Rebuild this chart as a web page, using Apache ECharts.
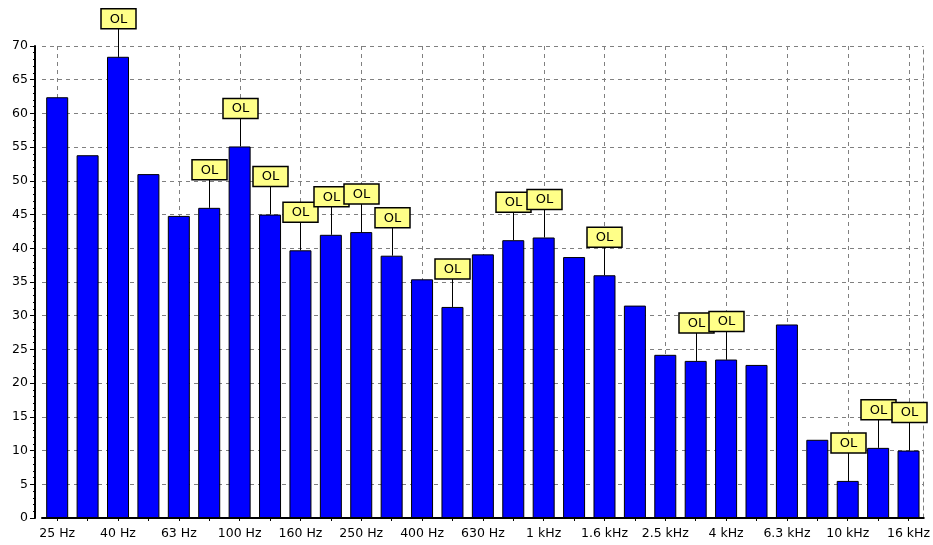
<!DOCTYPE html>
<html>
<head>
<meta charset="utf-8">
<script src="https://cdn.jsdelivr.net/npm/echarts@6/dist/echarts.min.js"></script>
<style>html,body{margin:0;padding:0;background:#fff}#c{width:933px;height:545px}</style>
</head>
<body>
<div id="c"></div>
<script>
const categories = ['25 Hz','31.5 Hz','40 Hz','50 Hz','63 Hz','80 Hz','100 Hz','125 Hz','160 Hz','200 Hz','250 Hz','315 Hz','400 Hz','500 Hz','630 Hz','800 Hz','1 kHz','1.25 kHz','1.6 kHz','2 kHz','2.5 kHz','3.15 kHz','4 kHz','5 kHz','6.3 kHz','8 kHz','10 kHz','12.5 kHz','16 kHz'];
const levels = [62.4,53.8,68.4,51.0,44.8,46.0,55.1,45.0,39.7,42.0,42.4,38.9,35.4,31.3,39.1,41.2,41.6,38.7,36.0,31.5,24.2,23.3,23.5,22.7,28.7,11.6,5.5,10.4,10.0];
const overload = [0,0,1,0,0,1,1,1,1,1,1,1,0,1,0,1,1,0,1,0,0,1,1,0,0,0,1,1,1];
const yTicks = {min: 0, max: 70, interval: 5};

const gridCats = categories.filter((c, i) => i % 2 === 0).map(c => [c]);
const olData = [];
levels.forEach((v, i) => { if (overload[i]) olData.push([categories[i], v]); });

const font = 'DejaVu Sans, Verdana, sans-serif';
const chart = echarts.init(document.getElementById('c'));
chart.setOption({
  animation: false,
  grid: {left: 42, right: 5, top: 46, bottom: 27, containLabel: false},
  xAxis: {
    type: 'category',
    data: categories,
    boundaryGap: true,
    axisLine: {show: true, lineStyle: {color: '#000', width: 2}},
    axisTick: {show: true, alignWithLabel: true, interval: 0, length: 3, lineStyle: {color: '#000'}},
    axisLabel: {interval: 1, color: '#000', fontFamily: font, fontSize: 12.5, margin: 9},
    splitLine: {show: false}
  },
  yAxis: [{
    type: 'value',
    min: yTicks.min, max: yTicks.max, interval: yTicks.interval,
    offset: 7,
    axisLine: {show: true, lineStyle: {color: '#000', width: 2}},
    axisTick: {show: true, length: 5, lineStyle: {color: '#000'}},
    minorTick: {show: true, splitNumber: 5, length: 2, lineStyle: {color: '#000'}},
    axisLabel: {color: '#000', fontFamily: font, fontSize: 12.5, margin: 7},
    splitLine: {show: true, lineStyle: {color: '#808080', type: [4, 4], width: 1}}
  }, {
    type: 'value', position: 'right',
    min: yTicks.min, max: yTicks.max, interval: yTicks.interval,
    axisLine: {show: true, lineStyle: {color: '#808080', type: [4, 4], width: 1}},
    axisTick: {show: false}, axisLabel: {show: false}, splitLine: {show: false}
  }],
  series: [{
    type: 'custom',
    z: 1,
    silent: true,
    data: gridCats,
    encode: {x: 0},
    renderItem: function (params, api) {
      const cs = params.coordSys;
      const x = Math.round(api.coord([api.value(0), 0])[0]) + 0.5;
      return {type: 'line', shape: {x1: x, y1: cs.y, x2: x, y2: cs.y + cs.height},
        style: {stroke: '#808080', lineWidth: 1, lineDash: [4, 4]}};
    }
  }, {
    type: 'bar',
    z: 2,
    data: levels,
    barWidth: 22,
    itemStyle: {color: '#0000FF', borderColor: '#000', borderWidth: 1}
  }, {
    type: 'custom',
    z: 3,
    silent: true,
    data: olData,
    encode: {x: 0, y: 1},
    renderItem: function (params, api) {
      const p = api.coord([api.value(0), api.value(1)]);
      const x = Math.round(p[0]) + 0.5;
      const top = p[1];
      const bw = 35, bh = 20, stem = 28;
      const by = top - stem - bh;
      return {type: 'group', children: [
        {type: 'line', shape: {x1: x, y1: top, x2: x, y2: top - stem}, style: {stroke: '#000', lineWidth: 1}},
        {type: 'rect', shape: {x: x - bw / 2, y: by, width: bw, height: bh},
          style: {fill: '#FFFF88', stroke: '#000', lineWidth: 1.5}},
        {type: 'text', style: {x: x, y: by + bh / 2 + 0.5, text: 'OL', align: 'center', verticalAlign: 'middle',
          fill: '#000', font: '13px ' + font}}
      ]};
    }
  }]
});
</script>
</body>
</html>
